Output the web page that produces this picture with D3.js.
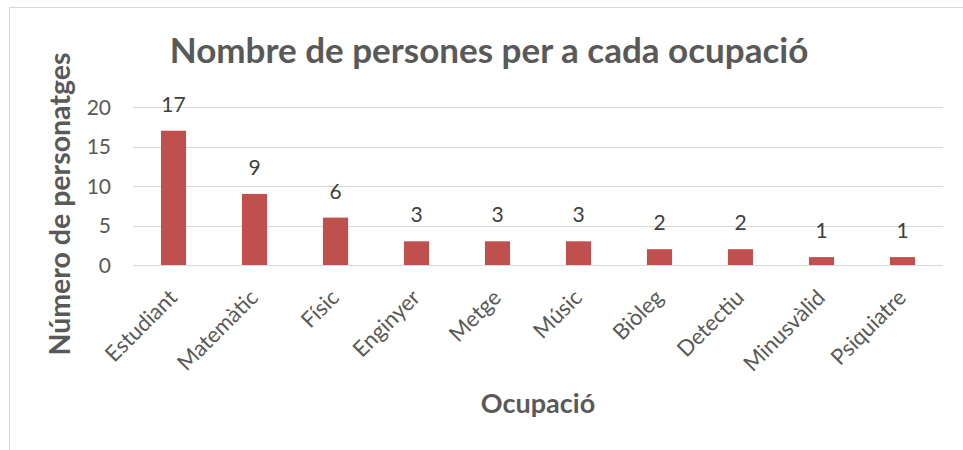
<!DOCTYPE html>
<html><head><meta charset="utf-8">
<script src="https://cdn.jsdelivr.net/npm/d3@7"></script>
<style>body{margin:0;background:#fff}svg{display:block}</style>
</head><body>
<script>
const categories = ["Estudiant","Matemàtic","Físic","Enginyer","Metge","Músic","Biòleg","Detectiu","Minusvàlid","Psiquiatre"];
const values = [17,9,6,3,3,3,2,2,1,1];
const yTicks = [0,5,10,15,20];
const title = "Nombre de persones per a cada ocupació";
const yLabel = "Número de personatges";
const xLabel = "Ocupació";

const W = 963, H = 450;
const font = "Lato, sans-serif";
const svg = d3.select("body").append("svg").attr("width", W).attr("height", H);

svg.append("rect").attr("x", 9.5).attr("y", 7.5).attr("width", 1000).attr("height", 600)
  .attr("fill", "#fff").attr("stroke", "#d9d9d9").attr("stroke-width", 1);

const x = d3.scaleBand().domain(categories).range([133, 943]).paddingInner(0.69).paddingOuter(0.345);
const y = d3.scaleLinear().domain([0, 20]).range([265, 107]);

// gridlines
svg.append("g").selectAll("line").data(yTicks).join("line")
  .attr("x1", 133).attr("x2", 943)
  .attr("y1", d => Math.round(y(d)) + 0.5).attr("y2", d => Math.round(y(d)) + 0.5)
  .attr("stroke", "#d9d9d9").attr("stroke-width", 1);

// y axis labels
const yAxis = svg.append("g").attr("transform", "translate(111,0)")
  .call(d3.axisLeft(y).tickValues(yTicks).tickSize(0).tickPadding(0));
yAxis.select(".domain").remove();
yAxis.selectAll("text").attr("font-family", font).attr("font-size", 21).attr("fill", "#595959").attr("dy", "0.35em");

// bars
svg.append("g").selectAll("rect").data(values).join("rect")
  .attr("x", (d, i) => x(categories[i]))
  .attr("y", d => y(d))
  .attr("width", x.bandwidth())
  .attr("height", d => y(0) - y(d))
  .attr("fill", "#C0504D");

// data labels
svg.append("g").selectAll("text").data(values).join("text")
  .attr("x", (d, i) => x(categories[i]) + x.bandwidth() / 2)
  .attr("y", d => y(d) - 19)
  .attr("text-anchor", "middle")
  .attr("font-family", font).attr("font-size", 21).attr("fill", "#404040")
  .text(d => d);

// x axis
const xAxis = svg.append("g").attr("transform", `translate(0,${y(0)})`)
  .call(d3.axisBottom(x).tickSize(0).tickPadding(0));
xAxis.select(".domain").remove();
xAxis.selectAll("text")
  .attr("font-family", font).attr("font-size", 22).attr("fill", "#595959")
  .attr("text-anchor", "end")
  .attr("dy", "0")
  .attr("transform", "translate(5,34) rotate(-45)");

// title
svg.append("text").attr("x", 489).attr("y", 63).attr("text-anchor", "middle")
  .attr("font-family", font).attr("font-weight", "bold").attr("font-size", 35).attr("fill", "#595959")
  .text(title);

// axis titles
svg.append("text").attr("transform", "translate(70,204) rotate(-90)").attr("text-anchor", "middle")
  .attr("font-family", font).attr("font-weight", "bold").attr("font-size", 28.5).attr("fill", "#595959")
  .text(yLabel);
svg.append("text").attr("x", 538).attr("y", 413).attr("text-anchor", "middle")
  .attr("font-family", font).attr("font-weight", "bold").attr("font-size", 27).attr("fill", "#595959")
  .text(xLabel);
</script>
</body></html>
